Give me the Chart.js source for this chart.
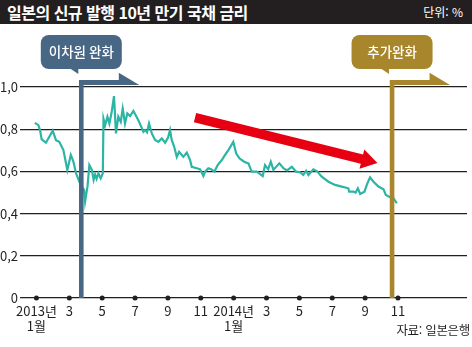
<!DOCTYPE html>
<html lang="ko">
<head>
<meta charset="UTF-8">
<title>일본의 신규 발행 10년 만기 국채 금리</title>
<script src="https://cdn.jsdelivr.net/npm/chart.js"></script>
<style>
  body { margin: 0; background: #fff; }
  .wrap { position: relative; width: 472px; height: 347px; font-family: 'Noto Sans CJK KR', sans-serif; color: #231f20; }
  .title-bar { position: absolute; left: 0; top: 0; width: 472px; height: 24px; background: #231f20; }
  .title { position: absolute; left: 7px; top: 1px; color: #fff; font-size: 16px; font-weight: bold; letter-spacing: -0.5px; line-height: 22px; }
  .unit { position: absolute; right: 9px; top: 2px; color: #fff; font-size: 12px; line-height: 20px; }
  .source { position: absolute; right: 2px; top: 321px; font-size: 12.5px; line-height: 18px; letter-spacing: -0.3px; }
  canvas { position: absolute; left: 0; top: 0; }
</style>
</head>
<body>
<div class="wrap">
  <canvas id="jgb-chart" width="472" height="347"></canvas>
  <div class="title-bar"></div>
  <div class="title">일본의 신규 발행 10년 만기 국채 금리</div>
  <div class="unit">단위: %</div>
  <div class="source">자료: 일본은행</div>
</div>

<script>
  // x = months since Jan 2013, y = yield (%)
  const monthPos = [-0.1, 0.12, 0.22, 0.32, 0.58, 0.99, 1.19, 1.39, 1.64, 1.88, 2.09, 2.25, 2.41, 2.61, 2.90, 2.96,
    3.11, 3.22, 3.37, 3.48, 3.57, 3.66, 3.77, 3.91, 4.04, 4.08, 4.18, 4.32, 4.44, 4.58, 4.72, 4.84, 4.98, 5.13, 5.25,
    5.39, 5.53, 5.70, 5.90, 6.20, 6.51, 6.61, 6.73, 6.85, 7.02, 7.22, 7.42, 7.63, 7.83, 8.01, 8.13, 8.23, 8.37, 8.54,
    8.68, 8.94, 9.15, 9.35, 9.45, 9.76, 9.96, 10.16, 10.26, 10.46, 10.63, 10.83, 11.03, 11.28, 11.48, 11.68, 11.98,
    12.15, 12.35, 12.64, 12.90, 13.10, 13.41, 13.77, 13.91, 14.10, 14.26, 14.42, 14.78, 15.03, 15.25, 15.54, 15.80,
    16.04, 16.24, 16.41, 16.55, 16.85, 17.08, 17.36, 17.77, 18.17, 18.58, 18.98, 19.03, 19.29, 19.42, 19.56, 19.70,
    19.96, 20.12, 20.30, 20.51, 20.81, 21.12, 21.26, 21.52, 21.70, 21.93];
  const yieldPct = [0.830, 0.819, 0.796, 0.752, 0.736, 0.793, 0.748, 0.740, 0.701, 0.607, 0.678, 0.646, 0.591, 0.551, 0.512, 0.457,
    0.530, 0.630, 0.607, 0.560, 0.585, 0.565, 0.591, 0.567, 0.591, 0.850, 0.819, 0.859, 0.827, 0.882, 0.957, 0.780, 0.859, 0.835, 0.898,
    0.827, 0.875, 0.862, 0.887, 0.843, 0.788, 0.796, 0.785, 0.827, 0.780, 0.749, 0.740, 0.756, 0.736, 0.760, 0.796, 0.749, 0.720, 0.669,
    0.693, 0.669, 0.689, 0.654, 0.622, 0.615, 0.610, 0.578, 0.599, 0.615, 0.610, 0.599, 0.630, 0.654, 0.678, 0.701, 0.740,
    0.686, 0.662, 0.646, 0.638, 0.599, 0.599, 0.578, 0.630, 0.610, 0.646, 0.607, 0.638, 0.615, 0.605, 0.622, 0.599,
    0.596, 0.583, 0.603, 0.583, 0.610, 0.600, 0.575, 0.551, 0.536, 0.528, 0.520, 0.504, 0.504, 0.500, 0.520, 0.493,
    0.504, 0.540, 0.572, 0.551, 0.528, 0.515, 0.488, 0.478, 0.476, 0.449];

  const tickMonths = [0, 2, 4, 6, 8, 10, 12, 14, 16, 18, 20, 22];
  const tickLabels = [['2013년', '1월'], '3', '5', '7', '9', '11', ['2014년', '1월'], '3', '5', '7', '9', '11'];
  const yTicks = [0, 0.2, 0.4, 0.6, 0.8, 1.0];
  const yTickLabels = ['0', '0,2', '0,4', '0,6', '0,8', '1,0'];

  const events = ['이차원 완화', '추가완화'];
  const eventMonths = [2.73, 21.64];
  const eventColors = ['#486784', '#a8862b'];

  const trendFrom = [9.65, 0.855];
  const trendTo = [20.75, 0.64];

  const ink = '#231f20';
  const tickFont = { family: "'Liberation Sans Narrow', 'Noto Sans CJK KR', sans-serif", size: 13, lineHeight: 1.2 };

  const annotate = {
    id: 'annotate',
    afterDatasetsDraw(chart) {
      const { ctx, scales: { x, y } } = chart;
      const base = y.getPixelForValue(0);
      const top = y.getPixelForValue(1);
      ctx.save();

      // red trend arrow
      const x1 = x.getPixelForValue(trendFrom[0]), y1 = y.getPixelForValue(trendFrom[1]);
      const x2 = x.getPixelForValue(trendTo[0]), y2 = y.getPixelForValue(trendTo[1]);
      const ang = Math.atan2(y2 - y1, x2 - x1);
      const len = Math.hypot(x2 - x1, y2 - y1);
      ctx.translate(x1, y1);
      ctx.rotate(ang);
      ctx.fillStyle = '#e60012';
      ctx.beginPath();
      ctx.moveTo(0, -4.7);
      ctx.lineTo(len - 16, -4.7);
      ctx.lineTo(len - 16, -10);
      ctx.lineTo(len, 0);
      ctx.lineTo(len - 16, 10);
      ctx.lineTo(len - 16, 4.7);
      ctx.lineTo(0, 4.7);
      ctx.closePath();
      ctx.fill();
      ctx.setTransform(1, 0, 0, 1, 0, 0);

      // event markers with callouts
      events.forEach((label, i) => {
        const px = x.getPixelForValue(eventMonths[i]);
        const barTop = top - 7;
        const w = 2.3;
        ctx.fillStyle = eventColors[i];
        ctx.beginPath();
        ctx.moveTo(px - w, base);
        ctx.lineTo(px - w, barTop);
        ctx.lineTo(px + 37.5, barTop);
        ctx.lineTo(px + 37.5, barTop - 7.3);
        ctx.lineTo(px + 58, barTop + 5);
        ctx.lineTo(px + w, barTop + 5);
        ctx.lineTo(px + w, base);
        ctx.closePath();
        ctx.fill();

        const boxB = top - 18, boxT = top - 52, bw = 81;
        ctx.beginPath();
        ctx.roundRect(px - bw / 2, boxT, bw, boxB - boxT, 8);
        ctx.fill();
        ctx.beginPath();
        ctx.moveTo(px - 12, boxB - 1);
        ctx.lineTo(px - 3, boxB - 1);
        ctx.lineTo(px - 3, boxB + 5);
        ctx.closePath();
        ctx.fill();

        ctx.fillStyle = '#fff';
        ctx.font = "500 13.5px 'Noto Sans CJK KR', sans-serif";
        ctx.textAlign = 'center';
        ctx.textBaseline = 'middle';
        ctx.fillText(label, px, (boxT + boxB) / 2);
      });
      ctx.restore();
    }
  };

  new Chart(document.getElementById('jgb-chart'), {
    type: 'line',
    data: {
      datasets: [{
        data: monthPos.map((m, i) => ({ x: m, y: yieldPct[i] })),
        borderColor: '#2cb5a4',
        borderWidth: 2.2,
        pointRadius: 0,
        tension: 0
      }, {
        data: tickMonths.map(m => ({ x: m, y: 0 })),
        showLine: false,
        pointRadius: 2.5,
        pointBackgroundColor: ink,
        pointBorderWidth: 0,
        clip: false
      }]
    },
    options: {
      responsive: false,
      animation: false,
      layout: { padding: { top: 87, right: 5, left: 0, bottom: 0 } },
      plugins: { legend: { display: false }, tooltip: { enabled: false } },
      scales: {
        x: {
          type: 'linear',
          min: -1,
          max: 26.2,
          afterBuildTicks: s => { s.ticks = tickMonths.map(v => ({ value: v })); },
          afterFit: s => { s.height = 49; },
          grid: { display: false, drawTicks: false },
          border: { display: false },
          ticks: {
            autoSkip: false,
            maxRotation: 0,
            padding: 5,
            color: ink,
            font: tickFont,
            callback: (v, i) => tickLabels[i]
          }
        },
        y: {
          min: 0,
          max: 1,
          afterBuildTicks: s => { s.ticks = yTicks.map(v => ({ value: v })); },
          afterFit: s => { s.width = 20; },
          grid: { color: ink, lineWidth: 1.3, drawTicks: false },
          border: { display: false },
          ticks: {
            padding: 2,
            color: ink,
            font: tickFont,
            callback: (v, i) => yTickLabels[i]
          }
        }
      }
    },
    plugins: [annotate]
  });
</script>
</body>
</html>
